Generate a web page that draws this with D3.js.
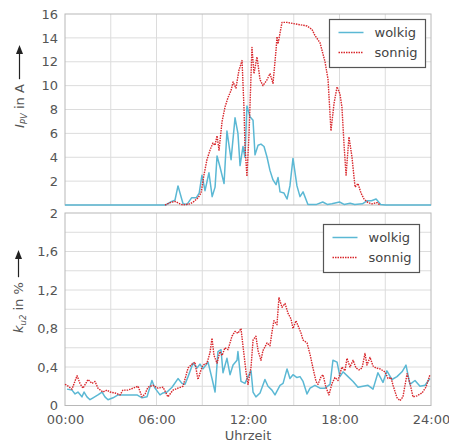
<!DOCTYPE html>
<html><head><meta charset="utf-8">
<script src="https://cdn.jsdelivr.net/npm/d3@7"></script>
<style>body{margin:0;background:#fff}text{font-family:"DejaVu Sans",Verdana,sans-serif}</style>
</head><body><svg id="c" width="449" height="443"></svg>
<script>
// ---- data ----
const seriesNames = ["wolkig", "sonnig"];
const xTickHours = [0, 6, 12, 18, 24];
const xTickLabels = ["00:00", "06:00", "12:00", "18:00", "24:00"];
const xGridHours = [3, 6, 9, 12, 15, 18, 21];
const topTickValues = [2, 4, 6, 8, 10, 12, 14, 16];
const topGridValues = [2, 4, 6, 8, 10, 12, 14];
const botTickValues = [0, 0.4, 0.8, 1.2, 1.6, 2];
const botTickLabels = ["0", "0,4", "0,8", "1,2", "1,6", "2"];
const botGridValues = [0.2, 0.4, 0.6, 0.8, 1.0, 1.2, 1.4, 1.6, 1.8];

// I_PV, wolkig
const ipvWolkigT = [0, 6.6, 7.0, 7.21, 7.41, 7.74, 8.0, 8.3, 8.6, 8.8, 8.98, 9.18, 9.44, 9.65, 9.84, 9.97, 10.16, 10.43, 10.62, 10.89, 11.15, 11.34, 11.48, 11.67, 11.8, 11.93, 12.13, 12.33, 12.46, 12.66, 12.85, 13.05, 13.25, 13.44, 13.64, 13.84, 13.97, 14.1, 14.36, 14.56, 14.75, 14.95, 15.21, 15.41, 15.61, 15.93, 16.5, 16.9, 17.2, 17.5, 18.0, 18.3, 18.7, 19.0, 19.5, 19.8, 20.1, 20.4, 20.7, 21, 24];
const ipvWolkigV = [0, 0, 0.3, 0.4, 1.6, 0.1, 0.05, 0.6, 0.6, 1.0, 2.5, 1.2, 2.7, 0.7, 1.5, 4.1, 3.2, 1.8, 6.2, 3.8, 7.3, 6.0, 3.3, 4.9, 4.0, 8.3, 7.4, 7.1, 4.2, 5.0, 5.1, 4.9, 4.0, 2.9, 2.1, 1.7, 2.3, 1.1, 1.0, 0.5, 1.6, 3.9, 1.6, 0.7, 1.1, 0.05, 0.05, 0.25, 0.05, 0.1, 0.25, 0.05, 0.15, 0.05, 0.1, 0.35, 0.35, 0.5, 0.05, 0, 0];
// I_PV, sonnig
const ipvSonnigT = [6.56, 6.89, 7.21, 7.54, 7.74, 8.2, 8.46, 8.72, 8.92, 9.11, 9.31, 9.51, 9.7, 9.84, 9.97, 10.1, 10.3, 10.49, 10.69, 10.89, 11.02, 11.21, 11.41, 11.61, 11.74, 11.8, 11.93, 12.07, 12.26, 12.39, 12.59, 12.79, 12.98, 13.25, 13.44, 13.64, 13.84, 13.9, 13.97, 14.1, 14.23, 14.56, 14.95, 15.41, 15.87, 16.2, 16.39, 16.72, 17.05, 17.25, 17.44, 17.64, 17.84, 18.03, 18.16, 18.3, 18.43, 18.62, 18.82, 19.02, 19.21, 19.41, 19.61, 19.87, 20.13, 20.46, 20.66];
const ipvSonnigV = [0, 0.2, 0.3, 0.1, 0, 0.1, 0.3, 0.6, 1.0, 2.5, 3.8, 4.6, 5.2, 5.0, 5.8, 4.6, 7.0, 8.2, 9.0, 9.6, 10.3, 9.8, 11.3, 12.1, 8.0, 5.0, 2.4, 6.0, 13.2, 11.0, 12.4, 10.5, 10.0, 10.5, 11.0, 10.2, 13.0, 14.1, 13.5, 14.4, 15.3, 15.3, 15.2, 15.1, 15.0, 14.7, 14.2, 13.6, 12.0, 10.5, 6.2, 8.5, 9.9, 9.3, 8.2, 5.0, 2.5, 5.7, 4.0, 1.5, 1.8, 1.0, 0.5, 0.2, 0.1, 0.2, 0];
// k_u2, wolkig
const kuWolkigT = [0.13, 0.46, 0.66, 0.85, 1.11, 1.25, 1.44, 1.64, 1.84, 2.16, 2.43, 2.62, 2.82, 3.15, 3.48, 4.07, 4.72, 5.05, 5.38, 5.7, 5.9, 6.23, 6.43, 6.69, 7.02, 7.41, 7.67, 7.87, 8.07, 8.39, 8.66, 8.85, 9.05, 9.38, 9.64, 9.84, 10.03, 10.23, 10.36, 10.62, 10.82, 11.02, 11.28, 11.34, 11.54, 11.8, 12.0, 12.2, 12.33, 12.52, 12.79, 13.11, 13.31, 13.57, 13.77, 14.1, 14.3, 14.56, 14.75, 14.95, 15.21, 15.41, 15.61, 15.87, 16.07, 16.39, 16.72, 17.05, 17.38, 17.57, 17.84, 18.03, 18.23, 18.56, 18.89, 19.21, 19.54, 19.87, 20.2, 20.52, 20.85, 21.11, 21.44, 21.77, 22.1, 22.36, 22.62, 22.95, 23.28, 23.61, 23.93];
const kuWolkigV = [0.17, 0.16, 0.12, 0.14, 0.09, 0.14, 0.09, 0.06, 0.08, 0.11, 0.14, 0.09, 0.06, 0.08, 0.11, 0.11, 0.11, 0.08, 0.09, 0.26, 0.18, 0.11, 0.13, 0.14, 0.19, 0.28, 0.23, 0.22, 0.3, 0.44, 0.39, 0.43, 0.38, 0.45, 0.28, 0.14, 0.56, 0.58, 0.34, 0.49, 0.32, 0.42, 0.47, 0.56, 0.25, 0.23, 0.3, 0.36, 0.14, 0.09, 0.13, 0.27, 0.2, 0.16, 0.11, 0.21, 0.23, 0.38, 0.28, 0.32, 0.29, 0.3, 0.25, 0.12, 0.18, 0.21, 0.18, 0.18, 0.22, 0.47, 0.45, 0.3, 0.35, 0.3, 0.25, 0.19, 0.2, 0.21, 0.17, 0.34, 0.24, 0.36, 0.27, 0.3, 0.35, 0.42, 0.22, 0.26, 0.2, 0.21, 0.28];
// k_u2, sonnig
const kuSonnigT = [0, 0.13, 0.46, 0.79, 0.98, 1.18, 1.51, 1.77, 1.97, 2.16, 2.49, 2.75, 2.95, 3.28, 3.61, 3.8, 4.13, 4.46, 4.79, 5.05, 5.25, 5.44, 5.77, 6.1, 6.43, 6.75, 7.08, 7.41, 7.74, 8.07, 8.33, 8.52, 8.72, 8.92, 9.05, 9.31, 9.51, 9.64, 9.77, 9.97, 10.16, 10.3, 10.49, 10.69, 10.95, 11.15, 11.34, 11.54, 11.67, 11.87, 12.0, 12.2, 12.33, 12.52, 12.66, 12.85, 12.98, 13.25, 13.44, 13.57, 13.7, 13.9, 14.03, 14.23, 14.43, 14.62, 14.82, 14.95, 15.15, 15.28, 15.48, 15.61, 15.87, 16.07, 16.26, 16.46, 16.59, 16.79, 16.92, 17.11, 17.31, 17.51, 17.7, 17.9, 18.16, 18.36, 18.49, 18.69, 18.89, 19.08, 19.28, 19.48, 19.67, 19.8, 20.0, 20.2, 20.39, 20.66, 20.98, 21.18, 21.38, 21.51, 21.77, 21.97, 22.16, 22.43, 22.62, 22.82, 23.08, 23.41, 23.67, 23.93];
const kuSonnigV = [0.22, 0.21, 0.17, 0.31, 0.23, 0.18, 0.27, 0.23, 0.25, 0.18, 0.14, 0.16, 0.14, 0.13, 0.11, 0.16, 0.16, 0.18, 0.2, 0.09, 0.12, 0.19, 0.21, 0.18, 0.19, 0.09, 0.16, 0.18, 0.2, 0.39, 0.43, 0.45, 0.27, 0.37, 0.42, 0.44, 0.55, 0.7, 0.52, 0.44, 0.56, 0.52, 0.6, 0.58, 0.72, 0.77, 0.75, 0.8, 0.62, 0.35, 0.22, 0.4, 0.68, 0.72, 0.57, 0.47, 0.57, 0.65, 0.62, 0.76, 0.88, 0.84, 1.12, 1.02, 1.06, 0.96, 0.9, 0.8, 0.88, 0.83, 0.75, 0.68, 0.65, 0.53, 0.39, 0.25, 0.22, 0.3, 0.32, 0.19, 0.11, 0.23, 0.29, 0.26, 0.4, 0.36, 0.49, 0.4, 0.47, 0.39, 0.37, 0.39, 0.54, 0.42, 0.5, 0.41, 0.39, 0.38, 0.35, 0.28, 0.29, 0.21, 0.08, 0.05, 0.09, 0.33, 0.23, 0.09, 0.1, 0.13, 0.19, 0.32];

// ---- drawing ----
const svg = d3.select("#c");
const L = 65, R = 431;
const blue = "#5bb8d4", red = "#d8262b";
const gridCol = "#dcdcdc", frameCol = "#b8b8b8", tickCol = "#555";

const x = d3.scaleLinear().domain([0, 24]).range([L, R]);
const yTop = d3.scaleLinear().domain([0, 16]).range([205, 14]);
const yBot = d3.scaleLinear().domain([0, 2]).range([405.5, 213]);

function panel(y, gridVals, tickVals, tickLabels) {
  const g = svg.append("g");
  const [y0, y1] = y.range();
  g.selectAll("line.gx").data(xGridHours).join("line")
    .attr("x1", d => x(d)).attr("x2", d => x(d)).attr("y1", y0).attr("y2", y1)
    .attr("stroke", gridCol).attr("stroke-width", 1);
  g.selectAll("line.gy").data(gridVals).join("line")
    .attr("x1", L).attr("x2", R).attr("y1", d => y(d)).attr("y2", d => y(d))
    .attr("stroke", gridCol).attr("stroke-width", 1);
  g.append("rect").attr("x", L).attr("y", y1).attr("width", R - L).attr("height", y0 - y1)
    .attr("fill", "none").attr("stroke", frameCol).attr("stroke-width", 1);
  const ax = svg.append("g").attr("transform", `translate(${L},0)`)
    .call(d3.axisLeft(y).tickValues(tickVals).tickSize(0).tickPadding(7)
      .tickFormat((d, i) => tickLabels ? tickLabels[i] : d));
  ax.select(".domain").remove();
  ax.selectAll("text").attr("font-size", 13).attr("fill", tickCol)
    .attr("font-family", "DejaVu Sans, sans-serif");
}
panel(yTop, topGridValues, topTickValues, null);
panel(yBot, botGridValues, botTickValues, botTickLabels);

const xa = svg.append("g").attr("transform", "translate(0,405.5)")
  .call(d3.axisBottom(x).tickValues(xTickHours).tickSize(0).tickPadding(9)
    .tickFormat((d, i) => xTickLabels[i]));
xa.select(".domain").remove();
xa.selectAll("text").attr("font-size", 13).attr("fill", tickCol).attr("font-family", "DejaVu Sans, sans-serif");

svg.append("text").attr("x", x(12)).attr("y", 440).attr("text-anchor", "middle")
  .attr("font-size", 13).attr("fill", tickCol).text("Uhrzeit");

function drawLine(y, T, V, col, dotted) {
  const pts = T.map((t, i) => [t, V[i]]);
  const ln = d3.line().x(d => x(d[0])).y(d => y(d[1]));
  const p = svg.append("path").datum(pts).attr("d", ln).attr("fill", "none")
    .attr("stroke", col).attr("stroke-width", dotted ? 1.4 : 1.5).attr("stroke-linejoin", "round");
  if (dotted) p.attr("stroke-dasharray", "1.5,1");
}
drawLine(yTop, ipvWolkigT, ipvWolkigV, blue, false);
drawLine(yTop, ipvSonnigT, ipvSonnigV, red, true);
drawLine(yBot, kuWolkigT, kuWolkigV, blue, false);
drawLine(yBot, kuSonnigT, kuSonnigV, red, true);

function legend(bx, by, bw, bh) {
  const g = svg.append("g");
  g.append("rect").attr("x", bx).attr("y", by).attr("width", bw).attr("height", bh)
    .attr("fill", "#fff").attr("stroke", "#555").attr("stroke-width", 1.2);
  seriesNames.forEach((n, i) => {
    const yy = by + 13 + i * 20;
    const l = g.append("line").attr("x1", bx + 9).attr("x2", bx + 34).attr("y1", yy).attr("y2", yy)
      .attr("stroke", i ? red : blue).attr("stroke-width", 1.5);
    if (i) l.attr("stroke-dasharray", "1.5,1");
    g.append("text").attr("x", bx + 45).attr("y", yy + 4.5).attr("font-size", 13)
      .attr("fill", "#444").text(n);
  });
}
legend(329.5, 19.5, 96, 48);
legend(323.5, 224.5, 96, 48);

function yLabel(cx, yStart, arrowTop, parts) {
  const t = svg.append("text").attr("transform", `translate(${cx},${yStart}) rotate(-90)`)
    .attr("font-size", 13).attr("fill", "#555");
  parts.forEach(p => {
    const ts = t.append("tspan").text(p.t);
    if (p.i) ts.attr("font-style", "italic");
    if (p.s) ts.attr("font-size", 8.5).attr("dy", 3);
    if (p.u) ts.attr("dy", -3);
  });
  const len = t.node().getComputedTextLength();
  const top = yStart - len - 5;
  svg.append("line").attr("x1", cx - 4.5).attr("x2", cx - 4.5).attr("y1", top).attr("y2", arrowTop + 6)
    .attr("stroke", "#222").attr("stroke-width", 1.2);
  svg.append("path").attr("d", `M${cx - 4.5},${arrowTop} l-3.5,9 l7,0 z`).attr("fill", "#222");
}
yLabel(24, 128, 45, [{t: "I", i: 1}, {t: "PV", i: 1, s: 1}, {t: " in A", u: 1}]);
yLabel(23, 333, 250, [{t: "k", i: 1}, {t: "u2", i: 1, s: 1}, {t: " in %", u: 1}]);
</script></body></html>
